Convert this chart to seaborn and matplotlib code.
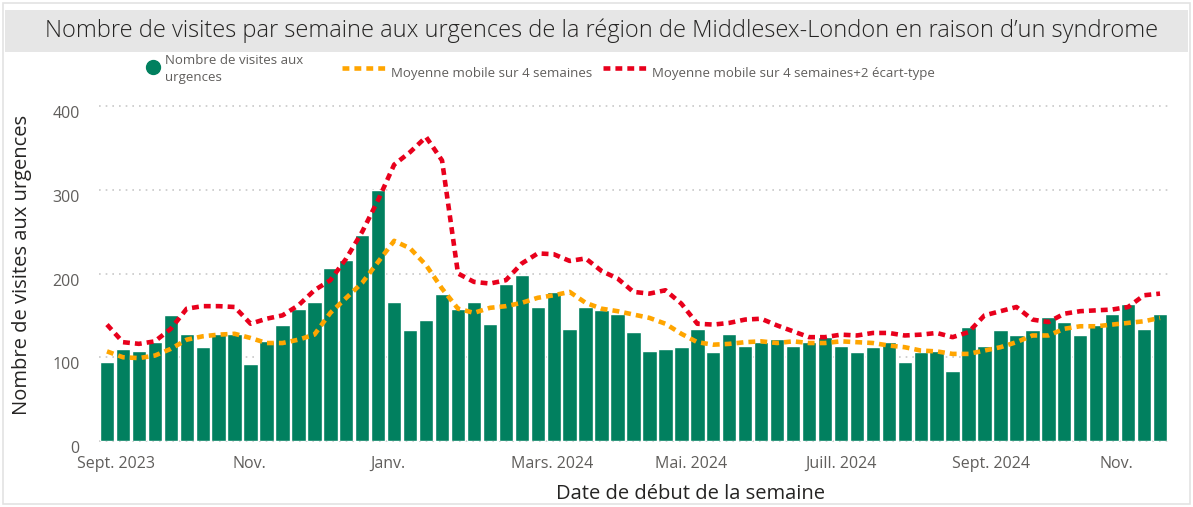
import numpy as np
import pandas as pd
import matplotlib.pyplot as plt
import matplotlib.transforms as mtransforms
import seaborn as sns
from matplotlib.lines import Line2D
from matplotlib.patches import Rectangle

# Visites hebdomadaires aux urgences
visites = [94, 110, 108, 118, 150, 128, 112, 128, 128, 92, 120, 138, 158, 166,
           206, 216, 246, 300, 166, 132, 144, 176, 158, 166, 140, 188, 198, 160,
           178, 134, 160, 156, 152, 130, 108, 110, 112, 134, 106, 128, 114, 118,
           122, 114, 118, 124, 114, 106, 112, 118, 94, 106, 108, 84, 136, 114,
           132, 126, 132, 148, 142, 126, 138, 152, 164, 134, 152]

# Moyenne mobile sur 4 semaines
moy_mobile = [107, 100, 99, 102, 110, 121, 125, 127, 128, 123, 117, 117, 121, 127,
              153, 171, 189, 214, 239, 230, 210, 182, 158, 153, 159, 161, 165, 171,
              174, 178, 165, 158, 155, 151, 147, 140, 128, 118, 115, 116, 118, 119,
              117, 119, 117, 117, 119, 118, 117, 114, 112, 108, 107, 104, 104, 108,
              112, 118, 126, 126, 134, 137, 137, 139, 141, 143, 147]

# Moyenne mobile sur 4 semaines + 2 écart-type
moy_mobile_2et = [139, 118, 116, 119, 134, 158, 161, 161, 160, 140, 146, 150, 162, 180,
                  192, 218, 250, 288, 330, 345, 363, 335, 200, 190, 188, 192, 212, 224,
                  223, 215, 218, 203, 194, 178, 176, 180, 164, 140, 139, 141, 145, 146,
                  138, 131, 124, 124, 127, 126, 129, 129, 126, 127, 129, 124, 130, 150,
                  155, 160, 145, 142, 152, 155, 156, 157, 160, 174, 176]

# Étiquettes de l'axe des x (position en semaines)
mois_labels = ['Sept. 2023', 'Nov.', 'Janv.', 'Mars. 2024', 'Mai. 2024',
               'Juill. 2024', 'Sept. 2024', 'Nov.']
mois_pos = [0.56, 8.9, 17.6, 27.9, 36.6, 46.0, 55.4, 63.25]
y_ticks = [0, 100, 200, 300, 400]

VERT = '#01805f'
ORANGE = '#ffa500'
ROUGE = '#e8001c'
GRIS = '#605e5c'
TIRETS = (0, (1.5, 1.1))

W, H = 1193, 507

df = pd.DataFrame({
    'semaine': np.arange(len(visites)),
    'visites': visites,
    'mm4': moy_mobile,
    'mm4_2et': moy_mobile_2et,
})

sns.set_theme(style='white')
plt.rcParams['font.family'] = ['Open Sans', 'DejaVu Sans']

fig = plt.figure(figsize=(W / 100, H / 100), dpi=100)
ax = fig.add_axes([99 / W, 66 / H, 1069 / W, 335 / H])

sns.barplot(data=df, x='semaine', y='visites', color=VERT, width=0.9,
            native_scale=True, saturation=1, ax=ax, zorder=2)
sns.lineplot(data=df, x='semaine', y='mm4', color=ORANGE, lw=3.3,
             linestyle=TIRETS, ax=ax, zorder=3)
sns.lineplot(data=df, x='semaine', y='mm4_2et', color=ROUGE, lw=3.3,
             linestyle=TIRETS, ax=ax, zorder=3)

ax.set_xlim(-0.5, len(visites) - 0.5)
ax.set_ylim(0, 400)
ax.set_yticks(y_ticks)
ax.set_xticks(mois_pos)
ax.set_xticklabels(mois_labels)
ax.tick_params(axis='both', length=0, labelsize=11.5, labelcolor=GRIS)
ax.tick_params(axis='y', pad=14)
ax.tick_params(axis='x', pad=11)
for lab in ax.get_yticklabels():
    lab.set_transform(lab.get_transform() + mtransforms.ScaledTranslation(0, -6 / 100, fig.dpi_scale_trans))
ax.set_xlabel('')
ax.set_ylabel('')
for s in ax.spines.values():
    s.set_visible(False)
ax.yaxis.grid(True, color='#c8c8c8', linestyle=(0, (1, 3)), lw=1.2, zorder=0)
ax.set_axisbelow(True)
for gl in ax.get_ygridlines():
    gl.set_clip_on(False)

# titres des axes
fig.text(22 / W, 1 - 265 / H, 'Nombre de visites aux urgences', rotation=90,
         ha='center', va='center', fontsize=14.5, color='#252423')
fig.text(690 / W, 1 - 494 / H, 'Date de début de la semaine',
         ha='center', va='center', fontsize=14.5, color='#252423')

# cadre et bandeau du titre
fig.patches.append(Rectangle((3 / W, 3 / H), 1187 / W, 501 / H, transform=fig.transFigure,
                             fill=False, edgecolor='#e3e3e3', lw=1.2))
fig.patches.append(Rectangle((5 / W, 1 - 52 / H), 1183 / W, 42 / H, transform=fig.transFigure,
                             facecolor='#e6e6e6', edgecolor='none'))
fig.text(602 / W, 1 - 31 / H,
         'Nombre de visites par semaine aux urgences de la région de Middlesex-London en raison d\u2019un syndrome',
         ha='center', va='center', fontsize=17, color='#252423', fontweight='light')

# légende
fig.add_artist(Line2D([153 / W], [1 - 67 / H], transform=fig.transFigure,
                      marker='o', markersize=10, color=VERT, ls=''))
fig.text(165 / W, 1 - 69 / H, 'Nombre de visites aux\nurgences', ha='left', va='center',
         fontsize=9.5, color=GRIS, linespacing=1.3)
fig.add_artist(Line2D([342 / W, 388 / W], [1 - 68 / H] * 2, transform=fig.transFigure,
                      color=ORANGE, lw=3.3, linestyle=TIRETS))
fig.text(391 / W, 1 - 73 / H, 'Moyenne mobile sur 4 semaines', ha='left', va='center',
         fontsize=9.5, color=GRIS)
fig.add_artist(Line2D([603 / W, 649 / W], [1 - 68 / H] * 2, transform=fig.transFigure,
                      color=ROUGE, lw=3.3, linestyle=TIRETS))
fig.text(652 / W, 1 - 73 / H, 'Moyenne mobile sur 4 semaines+2 écart-type', ha='left', va='center',
         fontsize=9.5, color=GRIS)

fig.savefig('out.png', dpi=100)
